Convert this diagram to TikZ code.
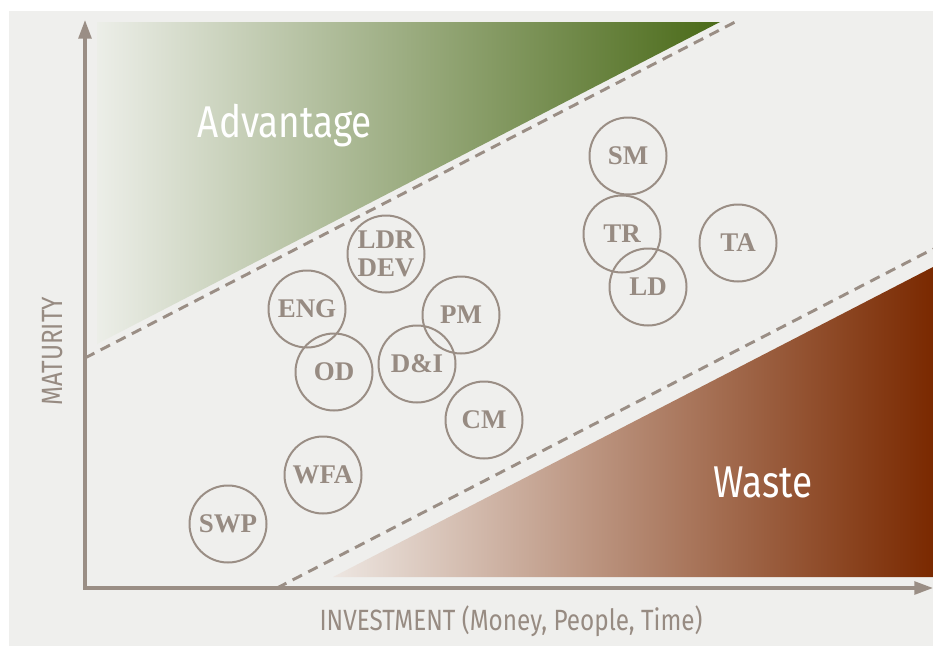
\documentclass[tikz,border=0pt]{standalone}
\usepackage{fontspec}
\newfontfamily\sanslab{Fira Sans}
\newfontfamily\seriflab{Liberation Serif}
\usetikzlibrary{arrows.meta}
\definecolor{panel}{HTML}{EFEFED}
\definecolor{axisgray}{HTML}{9A8E85}
\definecolor{labgray}{HTML}{978B82}
\definecolor{leafdark}{HTML}{4A6A18}
\definecolor{leaflight}{HTML}{ECEEE8}
\definecolor{rustdark}{HTML}{7A2900}
\definecolor{rustlight}{HTML}{EDE6E1}
\tikzset{
  axis/.style={draw=axisgray, line width=2.8pt, <->, >={Triangle[length=16pt,width=11pt]}},
  divider/.style={draw=axisgray, line width=2.5pt, dash pattern=on 9pt off 6pt},
  zone/.style={text=white, font=\sanslab\fontsize{38}{40}\selectfont},
  axlab/.style={text=labgray, font=\sanslab\fontsize{25}{27}\selectfont},
  func/.style={circle, draw=axisgray, line width=1.7pt, minimum size=23.1mm, inner sep=0pt,
    text=labgray, align=center, font=\seriflab\bfseries\fontsize{23}{23.5}\selectfont},
}

\begin{document}
\begin{tikzpicture}[x=0.3mm, y=-0.3mm]
  \useasboundingbox (0,0) rectangle (933,646);
  \fill[panel] (9,11) rectangle (933,646);

  % shaded zones
  \shade[left color=leaflight, right color=leafdark] (97,22) -- (720,22) -- (97,344) -- cycle;
  \shade[left color=rustlight, right color=rustdark] (333,577) -- (933,577) -- (933,267) -- cycle;

  \coordinate (hiA) at (85,358);
  \coordinate (hiB) at (739,20);
  \coordinate (loA) at (277,588);
  \coordinate (loB) at (933,249);
  \draw[divider] (hiA) -- (hiB);
  \draw[divider] (loA) -- (loB);

  % axes
  \coordinate (O) at (85,588);
  \coordinate (ytip) at (85,20);
  \coordinate (xtip) at (933,588);
  \draw[axis] (ytip) -- (O) -- (xtip);

  \node[zone, anchor=base] (adv) at (285,137) {\scalebox{0.83}[1]{Advantage}};
  \node[zone, anchor=base] (waste) at (763,497) {\scalebox{0.83}[1]{Waste}};
  \node[axlab, anchor=base] (invest) at (511,630) {\scalebox{0.83}[1]{INVESTMENT (Money, People, Time)}};
  \node[axlab, anchor=base, rotate=90] (matur) at (62,351) {\scalebox{0.83}[1]{MATURITY}};

  % functions
  \node[func] (sm)  at (628,156) {SM};
  \node[func] (tr)  at (622,234) {TR};
  \node[func] (ld)  at (648,287) {LD};
  \node[func] (ta)  at (738,243) {TA};
  \node[func] (ldr) at (386,254) {LDR\\DEV};
  \node[func] (eng) at (307,309) {ENG};
  \node[func] (od)  at (334,372) {OD};
  \node[func] (di)  at (417,364) {D\&I};
  \node[func] (pm)  at (461,315) {PM};
  \node[func] (cm)  at (484,420) {CM};
  \node[func] (wfa) at (323,475) {WFA};
  \node[func] (swp) at (228,524) {SWP};
\end{tikzpicture}
\end{document}
